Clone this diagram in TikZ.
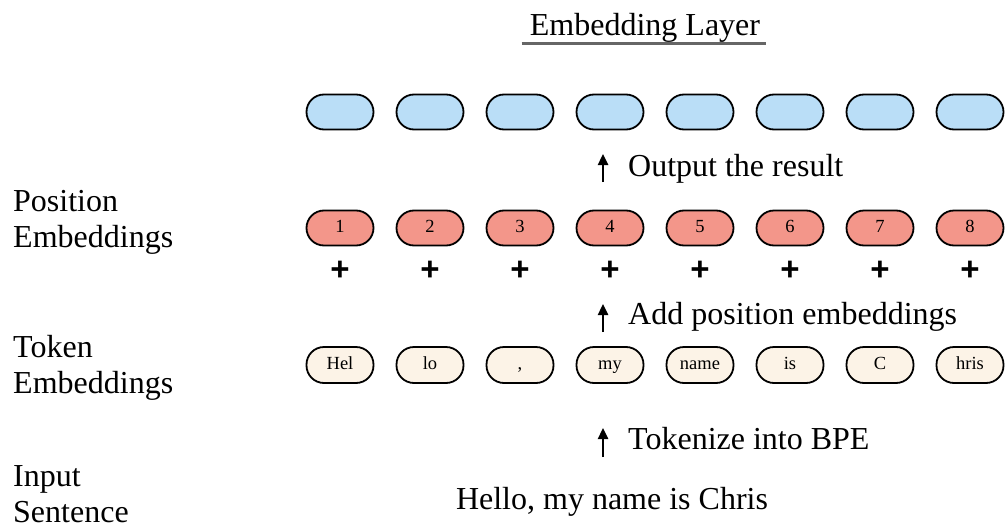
\documentclass[tikz,border=0pt]{standalone}
\usepackage{fontspec}
\setmainfont{Liberation Serif}
\newfontfamily\plusfont{Liberation Sans}
\usetikzlibrary{arrows.meta}
\definecolor{outblue}{RGB}{186,222,247}
\definecolor{posred}{RGB}{243,150,138}
\definecolor{tokcream}{RGB}{252,243,231}
\tikzset{
  pill/.style={draw, line width=1.8pt, rounded corners=17.5pt,
    minimum width=67pt, minimum height=35pt, inner sep=0pt,
    text height=13pt, text depth=5pt,
    font=\fontsize{18.5}{18.5}\selectfont},
  lbl/.style={anchor=base west, inner sep=0pt, align=left,
    font=\fontsize{32}{35.5}\selectfont},
  plus/.style={inner sep=0pt, font=\plusfont\bfseries\fontsize{33}{33}\selectfont},
  up/.style={-{Triangle[length=11pt,width=10pt]}, line width=2.4pt},
}
\begin{document}
\begin{tikzpicture}[x=1pt,y=1pt]
  \useasboundingbox (0,0) rectangle (1005,-525);
  % title
  \node (title) [lbl, anchor=base] at (645,-35) {Embedding Layer};
  \draw [black!60, line width=3pt]
    ([xshift=-8pt,yshift=-8pt]title.base west) --
    ([xshift=6pt,yshift=-8pt]title.base east);
  % row labels (base = last line)
  \node (poslbl) [lbl] at (13,-247) {Position\\Embeddings};
  \node (toklbl) [lbl] at (13,-393) {Token\\Embeddings};
  \node (inlbl) [lbl] at (13,-522) {Input\\Sentence};
  % the three rows
  \foreach \i/\tok in {1/Hel,2/lo,3/{,},4/my,5/name,6/is,7/C,8/hris} {
    \node (out\i) [pill, fill=outblue] at (250+90*\i,-112) {};
    \node (pos\i) [pill, fill=posred] at (250+90*\i,-228) {\i};
    \node (plus\i) [plus] at (250+90*\i,-271) {+};
    \node (tok\i) [pill, fill=tokcream, minimum height=36pt]
      at (250+90*\i,-365) {\tok};
  }
  % steps
  \node (sent) [lbl, anchor=base] at (612,-509) {Hello, my name is Chris};
  \node (bpe) [lbl] at (628,-449) {Tokenize into BPE};
  \node (add) [lbl] at (628,-324) {Add position embeddings};
  \node (res) [lbl] at (628,-176) {Output the result};
  \coordinate (bpe0) at (603,-457);
  \coordinate (bpe1) at (603,-428);
  \coordinate (add0) at (603,-332);
  \coordinate (add1) at (603,-304);
  \coordinate (res0) at (603,-182);
  \coordinate (res1) at (603,-154);
  \draw [up] (bpe0) -- (bpe1);
  \draw [up] (add0) -- (add1);
  \draw [up] (res0) -- (res1);
\end{tikzpicture}
\end{document}
